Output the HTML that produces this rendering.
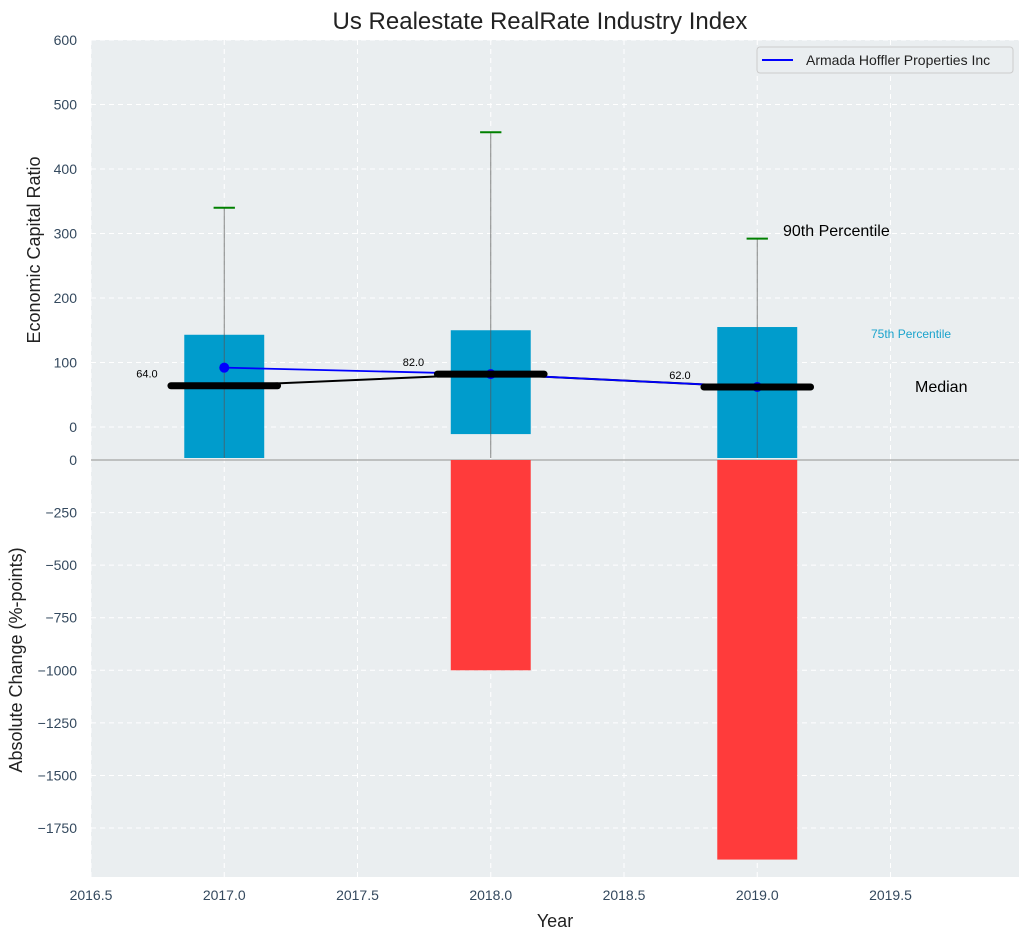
<!DOCTYPE html>
<html><head><meta charset="utf-8"><style>
body{margin:0;background:#fff;font-family:"Liberation Sans","DejaVu Sans",sans-serif;}
svg text{font-family:"Liberation Sans","DejaVu Sans",sans-serif;}
</style></head><body>
<svg id="c" width="1029" height="940" xmlns="http://www.w3.org/2000/svg">
<defs>
<clipPath id="ct"><rect x="91" y="40" width="928" height="418"/></clipPath>
<clipPath id="cb"><rect x="91" y="458" width="928" height="419"/></clipPath>
</defs>
</svg>
<script>
const years=[2017,2018,2019];
const p75=[143,150,155];
const p25=[-60,-11,-60];
const p90=[340,457,292];
const medians=[64,82,62];
const company=[92,82,62];
const changes=[0,-1000,-1900];
const topTicks=[0,100,200,300,400,500,600];
const botTicks=[0,-250,-500,-750,-1000,-1250,-1500,-1750];
const xTicks=[2016.5,2017,2017.5,2018,2018.5,2019,2019.5];
const xTickLabels=["2016.5","2017.0","2017.5","2018.0","2018.5","2019.0","2019.5"];
const botTickLabels=["0","\u2212250","\u2212500","\u2212750","\u22121000","\u22121250","\u22121500","\u22121750"];

const NS="http://www.w3.org/2000/svg";
const svg=document.getElementById('c');
const X=v=>91+(v-2016.5)*266.5;
const Y=v=>427-v*0.645;
const B=v=>460-v*0.2103;
function el(tag,attrs,parent){const e=document.createElementNS(NS,tag);for(const k in attrs)e.setAttribute(k,attrs[k]);(parent||svg).appendChild(e);return e;}
function txt(s,attrs,parent){const e=el('text',attrs,parent);e.textContent=s;return e;}

let bg1=el('rect',{x:91,y:40,width:928,height:418,fill:'#eaeef0'});


let bg2=el('rect',{x:91,y:458,width:928,height:419,fill:'#eaeef0'});



const gt=el('g',{'clip-path':'url(#ct)'});


const gb=el('g',{'clip-path':'url(#cb)'});



// grids
xTicks.forEach(t=>{
  el('line',{x1:X(t),x2:X(t),y1:40,y2:458,stroke:'#fff','stroke-dasharray':'5,4','stroke-width':1},gt);
  el('line',{x1:X(t),x2:X(t),y1:458,y2:877,stroke:'#fff','stroke-dasharray':'5,4','stroke-width':1},gb);
});
topTicks.forEach(t=>{
  el('line',{x1:91,x2:1019,y1:Y(t),y2:Y(t),stroke:'#fff','stroke-dasharray':'5,4'},gt);
  let l=txt(String(t),{x:77,y:Y(t)+5,'text-anchor':'end','font-size':14,fill:'#34495e'});
  
  
});
botTicks.forEach((t,i)=>{
  if(t!==0) el('line',{x1:91,x2:1019,y1:B(t),y2:B(t),stroke:'#fff','stroke-dasharray':'5,4'},gb);
  let l=txt(botTickLabels[i],{x:77,y:B(t)+5,'text-anchor':'end','font-size':14,fill:'#34495e'});
  
  
});
xTicks.forEach((t,i)=>{
  let l=txt(xTickLabels[i],{x:X(t),y:900,'text-anchor':'middle','font-size':14,fill:'#34495e'});
  
  
});
el('line',{x1:91,x2:1019,y1:B(0),y2:B(0),stroke:'#b0b0b0','stroke-width':1.5},gb);

// bars
years.forEach((yr,i)=>{
  let r=el('rect',{x:X(yr-0.15),width:X(yr+0.15)-X(yr-0.15),y:Y(p75[i]),height:Y(p25[i])-Y(p75[i]),fill:'#009ccc'},gt);
  
  
  if(changes[i]<0){
    let c=el('rect',{x:X(yr-0.15),width:X(yr+0.15)-X(yr-0.15),y:B(0),height:B(changes[i])-B(0),fill:'#ff3b3b'},gb);
    
    
  }
  let w=el('line',{x1:X(yr),x2:X(yr),y1:Y(p90[i]),y2:458,stroke:'#555','stroke-opacity':0.7,'stroke-width':1},gt);
  
  
  let cap=el('line',{x1:X(yr-0.04),x2:X(yr+0.04),y1:Y(p90[i]),y2:Y(p90[i]),stroke:'green','stroke-width':2},gt);
  
  
});
// median connector
let mp=years.map((yr,i)=>X(yr)+','+Y(medians[i])).join(' ');
el('polyline',{points:mp,fill:'none',stroke:'#000','stroke-width':2},gt);
// company line
let cp=years.map((yr,i)=>X(yr)+','+Y(company[i])).join(' ');
let cl=el('polyline',{points:cp,fill:'none',stroke:'#0000ff','stroke-width':1.8},gt);


years.forEach((yr,i)=>{
  let d=el('circle',{cx:X(yr),cy:Y(company[i]),r:5,fill:'#0000ff'},gt);
  
  
});
years.forEach((yr,i)=>{
  let m=el('line',{x1:X(yr-0.2),x2:X(yr+0.2),y1:Y(medians[i]),y2:Y(medians[i]),stroke:'#000','stroke-width':7,'stroke-linecap':'round'},gt);
  
  
  let t=txt(medians[i].toFixed(1),{x:X(yr-0.25),y:Y(medians[i])-8,'text-anchor':'end','font-size':11,fill:'#000'},gt);
  
  
});
</script>
<svg width="1029" height="940" style="position:absolute;left:0;top:0" xmlns="http://www.w3.org/2000/svg">
<text x="540" y="29" text-anchor="middle" font-size="24" fill="#222">Us Realestate RealRate Industry Index</text>
<text transform="translate(40,250) rotate(-90)" text-anchor="middle" font-size="18" fill="#222">Economic Capital Ratio</text>
<text transform="translate(22,660) rotate(-90)" text-anchor="middle" font-size="18" fill="#222">Absolute Change (%-points)</text>
<text x="555" y="927" text-anchor="middle" font-size="18" fill="#222">Year</text>
<text x="783" y="236" font-size="16" fill="#000">90th Percentile</text>
<text x="871" y="338" font-size="12" fill="#1aa3cc">75th Percentile</text>
<text x="915" y="392" font-size="16" fill="#000">Median</text>
<g>
<rect x="757" y="47" width="256" height="26" rx="3" fill="#eaeef0" stroke="#ccc"/>
<line x1="762" y1="60" x2="793" y2="60" stroke="#0000ff" stroke-width="2"/>
<text x="806" y="65" font-size="14" fill="#222">Armada Hoffler Properties Inc</text>
</g>
</svg>
</body></html>
